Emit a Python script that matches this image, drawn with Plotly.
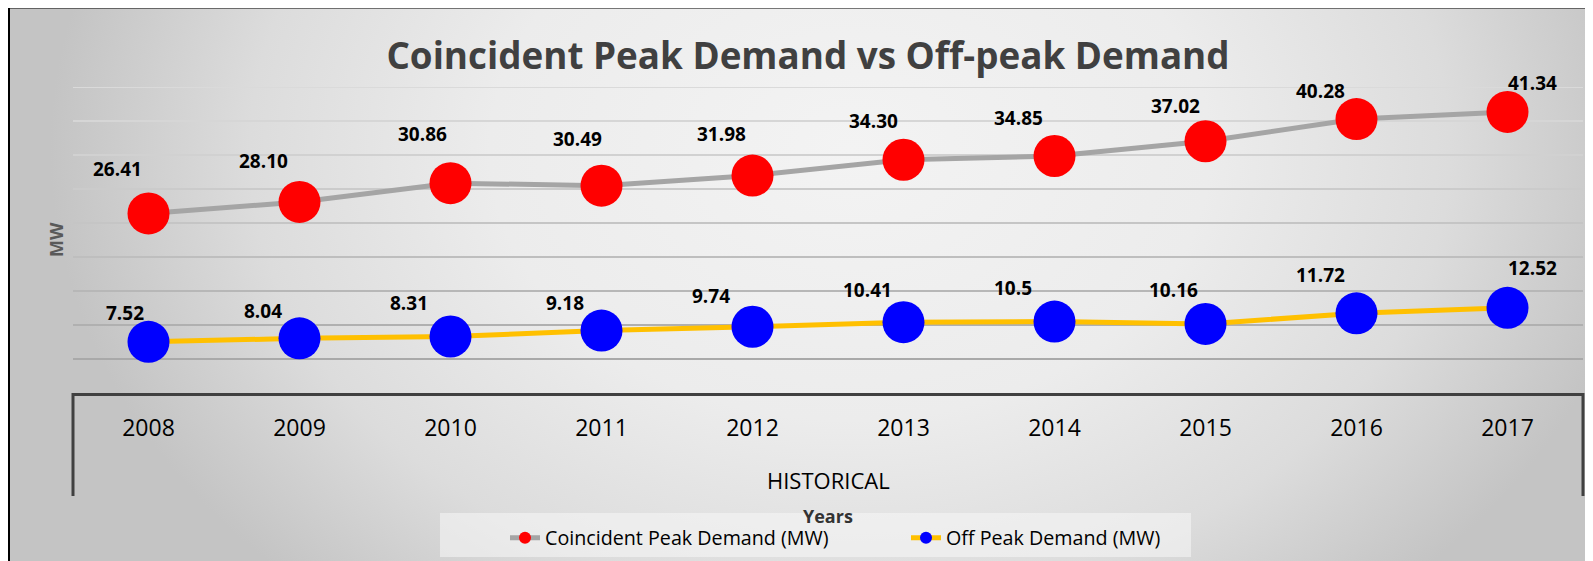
import base64
import plotly.graph_objects as go

# ---------------- data ----------------
years = ["2008", "2009", "2010", "2011", "2012", "2013", "2014", "2015", "2016", "2017"]
coincident_peak = [26.41, 28.10, 30.86, 30.49, 31.98, 34.30, 34.85, 37.02, 40.28, 41.34]
off_peak = [7.52, 8.04, 8.31, 9.18, 9.74, 10.41, 10.5, 10.16, 11.72, 12.52]
coincident_labels = [f"{v:.2f}" for v in coincident_peak]
off_peak_labels = [str(v) for v in off_peak]
grid_values = [5, 10, 15, 20, 25, 30, 35, 40, 45]

# label nudges (pixels, relative to the marker centre; dy positive = up)
peak_label_dx = [-31, -36, -28, -24, -31, -30, -36, -30, -36, 25]
peak_label_dy = [44, 41, 49, 47, 42, 39, 38, 35, 28, 29]
off_label_dx = [-24, -37, -42, -37, -42, -36, -42, -32, -36, 25]
off_label_dy = [29, 27, 33, 28, 31, 32, 34, 34, 38, 40]

# ---------------- geometry ----------------
W, H = 1593, 561
OFF = 8  # page margin around the figure
L, T = 65, 79
R = W - 1575
B = H - 385
PW, PH = W - L - R, H - T - B


def px_x(p):
    """screen x (page coords) -> paper x"""
    return (p - OFF - L) / PW


def px_y(p):
    """screen y (page coords) -> paper y"""
    return (H - B - (p - OFF)) / PH


FONT = "Open Sans"

# background gradient (chart area) as an svg image
svg = f"""<svg xmlns='http://www.w3.org/2000/svg' width='{W}' height='{H}' viewBox='0 0 {W} {H}' preserveAspectRatio='none'>
<defs><radialGradient id='g' gradientUnits='userSpaceOnUse' cx='842' cy='142' r='800'
 gradientTransform='translate(842 142) scale(1 0.75) translate(-842 -142)'>
<stop offset='0' stop-color='#f3f3f3'/><stop offset='0.45' stop-color='#ececec'/>
<stop offset='0.75' stop-color='#dcdcdc'/><stop offset='1' stop-color='#c4c4c4'/>
</radialGradient></defs>
<rect x='0' y='0' width='{W}' height='{H}' fill='url(#g)'/></svg>"""
svg_uri = "data:image/svg+xml;base64," + base64.b64encode(svg.encode()).decode()

fig = go.Figure()

fig.add_trace(go.Scatter(
    x=years, y=coincident_peak, name="Coincident Peak Demand (MW)",
    mode="lines+markers",
    line=dict(color="#a5a5a5", width=5),
    marker=dict(color="#ff0000", size=42, line=dict(width=0)),
))
fig.add_trace(go.Scatter(
    x=years, y=off_peak, name="Off Peak Demand (MW)",
    mode="lines+markers",
    line=dict(color="#ffc000", width=5),
    marker=dict(color="#0000ff", size=42, line=dict(width=0)),
))

label_font = dict(family=FONT, size=19, color="#000000", weight="bold")
annotations = []
for i, (v, t, dx, dy) in enumerate(zip(coincident_peak, coincident_labels, peak_label_dx, peak_label_dy)):
    annotations.append(dict(x=i, y=v, xref="x", yref="y", text=t, showarrow=False,
                            xshift=dx, yshift=dy, xanchor="center", yanchor="middle",
                            font=label_font))
for i, (v, t, dx, dy) in enumerate(zip(off_peak, off_peak_labels, off_label_dx, off_label_dy)):
    annotations.append(dict(x=i, y=v, xref="x", yref="y", text=t, showarrow=False,
                            xshift=dx, yshift=dy, xanchor="center", yanchor="middle",
                            font=label_font))

annotations += [
    dict(x=px_x(56), y=0.5, xref="paper", yref="paper", text="MW", textangle=-90,
         showarrow=False, xanchor="center", yanchor="middle",
         font=dict(family=FONT, size=18, color="#595959", weight="bold")),
    dict(x=0.5, y=px_y(480), xref="paper", yref="paper", text="HISTORICAL",
         showarrow=False, xanchor="center", yanchor="middle",
         font=dict(family=FONT, size=22, color="#000000")),
    dict(x=0.5, y=px_y(516), xref="paper", yref="paper", text="Years",
         showarrow=False, xanchor="center", yanchor="middle",
         font=dict(family=FONT, size=18, color="#333333", weight="bold")),
]

# gridlines, fading lighter towards the top
grid_colors = ["#a9a9a9", "#b0b0b0", "#b7b7b7", "#bebebe", "#c5c5c5",
               "#cbcbcb", "#d1d1d1", "#d6d6d6", "#dadada"]
shapes = []
for gv, gc in zip(grid_values, grid_colors):
    shapes.append(dict(type="line", xref="x domain", yref="y", x0=0, x1=1, y0=gv, y1=gv,
                       line=dict(color=gc, width=2), layer="below"))

# category box (multi-level axis)
for xd in (0, 1):
    shapes.append(dict(type="line", xref="x domain", yref="paper", x0=xd, x1=xd,
                       y0=0, y1=px_y(496), line=dict(color="#404040", width=3), layer="above"))
# legend panel
shapes.append(dict(type="rect", xref="paper", yref="paper",
                   x0=px_x(440), x1=px_x(1191), y0=px_y(513), y1=px_y(557),
                   fillcolor="rgba(248,248,248,0.55)", line=dict(width=0), layer="below"))
# outer chart frame
shapes.append(dict(type="rect", xref="paper", yref="paper",
                   x0=px_x(9), x1=px_x(1640), y0=px_y(7.5), y1=px_y(620),
                   fillcolor="rgba(0,0,0,0)", line=dict(color="#000000", width=2), layer="above"))

fig.update_layout(
    width=W, height=H,
    margin=dict(l=L, r=R, t=T, b=B),
    paper_bgcolor="#ffffff",
    plot_bgcolor="rgba(0,0,0,0)",
    title=dict(text="Coincident Peak Demand vs Off-peak Demand",
               x=px_x(808), xref="paper", xanchor="center",
               y=1 - (56.5 - OFF) / H, yref="container", yanchor="middle",
               font=dict(family=FONT, size=36.8, color="#404040", weight="bold")),
    xaxis=dict(type="category", range=[-0.5, 9.5], showgrid=False, zeroline=False,
               showline=True, linecolor="#404040", linewidth=3, ticks="",
               ticklabelstandoff=12,
               tickfont=dict(family=FONT, size=23, color="#000000")),
    yaxis=dict(range=[0, 45], showgrid=False, zeroline=False, showticklabels=False,
               showline=False, ticks=""),
    showlegend=True,
    legend=dict(orientation="h", x=px_x(505), xanchor="left", y=px_y(538), yanchor="middle",
                bgcolor="rgba(0,0,0,0)", itemsizing="constant", entrywidth=356,
                font=dict(family=FONT, size=19.7, color="#000000")),
    annotations=annotations,
    shapes=shapes,
    images=[dict(source=svg_uri, xref="paper", yref="paper", x=px_x(OFF), y=px_y(OFF),
                 sizex=W / PW, sizey=H / PH, xanchor="left", yanchor="top",
                 sizing="stretch", layer="below")],
)

fig.write_html("out.html")
